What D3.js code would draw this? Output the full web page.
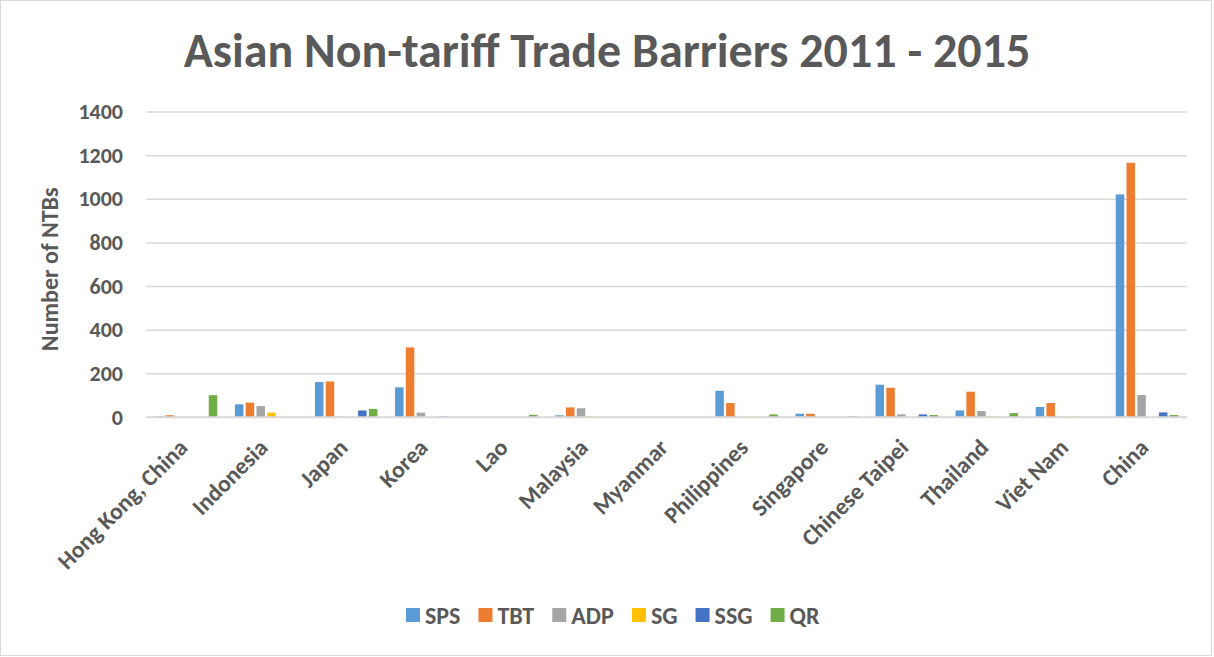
<!DOCTYPE html>
<html>
<head>
<meta charset="utf-8">
<script src="https://cdn.jsdelivr.net/npm/d3@7"></script>
<style>
  html, body { margin: 0; padding: 0; background: #ffffff; }
  svg text { font-family: Carlito, Calibri, Lato, "Open Sans", sans-serif; font-weight: bold; fill: #595959; }
</style>
</head>
<body>
<svg id="chart" width="1214" height="657"></svg>
<script>
// Categories (economies) and series
const countries = ["Hong Kong, China", "Indonesia", "Japan", "Korea", "Lao", "Malaysia", "Myanmar",
  "Philippines", "Singapore", "Chinese Taipei", "Thailand", "Viet Nam", "China"];
const seriesNames = ["SPS", "TBT", "ADP", "SG", "SSG", "QR"];
const seriesColors = ["#5B9BD5", "#ED7D31", "#A5A5A5", "#FFC000", "#4472C4", "#70AD47"];

// Number of NTBs per measure, in country order
const sps = [3, 58, 160, 136, 0, 8, 0, 120, 15, 148, 30, 46, 1020];
const tbt = [8, 66, 163, 319, 0, 44, 0, 64, 15, 134, 116, 64, 1165];
const adp = [0, 50, 2, 20, 0, 40, 0, 0, 0, 12, 27, 1, 101];
const sg  = [0, 20, 0, 0, 0, 2, 0, 2, 0, 0, 2, 2, 0];
const ssg = [0, 0, 30, 3, 0, 0, 0, 0, 0, 12, 0, 0, 21];
const qr  = [100, 0, 37, 0, 10, 0, 0, 12, 4, 9, 18, 0, 9];

const yTicks = [0, 200, 400, 600, 800, 1000, 1200, 1400];

const seriesValues = [sps, tbt, adp, sg, ssg, qr];

const svg = d3.select("#chart");
const W = 1214, H = 657;
const plot = { left: 146, right: 1187, top: 111.5, bottom: 417 };

// chart frame
svg.append("rect")
  .attr("x", 0.5).attr("y", 0.5)
  .attr("width", W - 3).attr("height", H - 2)
  .attr("fill", "#ffffff").attr("stroke", "#d9d9d9").attr("stroke-width", 1);

const x0 = d3.scaleBand().domain(countries).range([plot.left, plot.right]).paddingInner(0).paddingOuter(0);
const innerPad = 0.11; // fraction of the band left on each side of the bar cluster
const clusterWidth = x0.bandwidth() * (1 - 2 * innerPad);
const x1 = d3.scaleBand().domain(seriesNames)
  .range([x0.bandwidth() * innerPad, x0.bandwidth() * innerPad + clusterWidth])
  .paddingInner(0.21).paddingOuter(0);

const y = d3.scaleLinear().domain([0, 1400]).range([plot.bottom, plot.top]);

// gridlines and value ticks
const yAxis = d3.axisLeft(y).tickValues(yTicks).tickFormat(d3.format("d"))
  .tickSize(-(plot.right - plot.left)).tickPadding(23);
const gy = svg.append("g").attr("transform", `translate(${plot.left},0)`).call(yAxis);
gy.select(".domain").remove();
gy.selectAll(".tick line").attr("stroke", "#d9d9d9").attr("stroke-width", 1.5);
gy.selectAll(".tick text").attr("font-size", 22).attr("fill", "#595959")
  .style("font-family", "Carlito, Calibri, Lato, 'Open Sans', sans-serif").style("font-weight", "bold");

// bars
const rows = countries.map((c, i) => ({ country: c, vals: seriesNames.map((s, k) => ({ key: s, k, value: seriesValues[k][i] })) }));
const groups = svg.append("g").selectAll("g").data(rows).join("g")
  .attr("transform", d => `translate(${x0(d.country)},0)`);
groups.selectAll("rect").data(d => d.vals).join("rect")
  .attr("x", d => x1(d.key))
  .attr("width", x1.bandwidth())
  .attr("y", d => y(d.value))
  .attr("height", d => y(0) - y(d.value))
  .attr("fill", d => seriesColors[d.k]);

// baseline at zero
svg.append("line")
  .attr("x1", plot.left).attr("x2", plot.right)
  .attr("y1", y(0)).attr("y2", y(0))
  .attr("stroke", "#d9d9d9").attr("stroke-width", 1.5);

// category labels, rotated
svg.append("g").selectAll("text").data(countries).join("text")
  .attr("transform", d => `translate(${x0(d) + x0.bandwidth() / 2 + 3},${449}) rotate(-45)`)
  .attr("text-anchor", "end")
  .attr("font-size", 23.5)
  .text(d => d);

// y axis title
svg.append("text")
  .attr("transform", `translate(58,${(plot.top + plot.bottom) / 2 + 5}) rotate(-90)`)
  .attr("text-anchor", "middle")
  .attr("font-size", 24)
  .text("Number of NTBs");

// title
svg.append("text")
  .attr("x", 607).attr("y", 67)
  .attr("text-anchor", "middle")
  .attr("font-size", 48)
  .text("Asian Non-tariff Trade Barriers 2011 - 2015");

// legend
const legendItems = seriesNames.map((s, k) => ({ s, k }));
const legend = svg.append("g").attr("transform", "translate(0,615)");
const swatch = 14, gapText = 5, gapItem = 18;
const items = legend.selectAll("g").data(legendItems).join("g");
items.append("rect").attr("width", swatch).attr("height", swatch).attr("y", -swatch / 2)
  .attr("fill", d => seriesColors[d.k]);
items.append("text").attr("x", swatch + gapText).attr("dy", "0.36em").attr("font-size", 24).text(d => d.s);
const widths = [];
items.each(function () { widths.push(this.getBBox().width); });
const total = d3.sum(widths) + gapItem * (widths.length - 1);
let cursor = (W - total) / 2 + 6;
items.attr("transform", (d, i) => {
  const t = `translate(${cursor},0)`;
  cursor += widths[i] + gapItem;
  return t;
});
</script>
</body>
</html>
